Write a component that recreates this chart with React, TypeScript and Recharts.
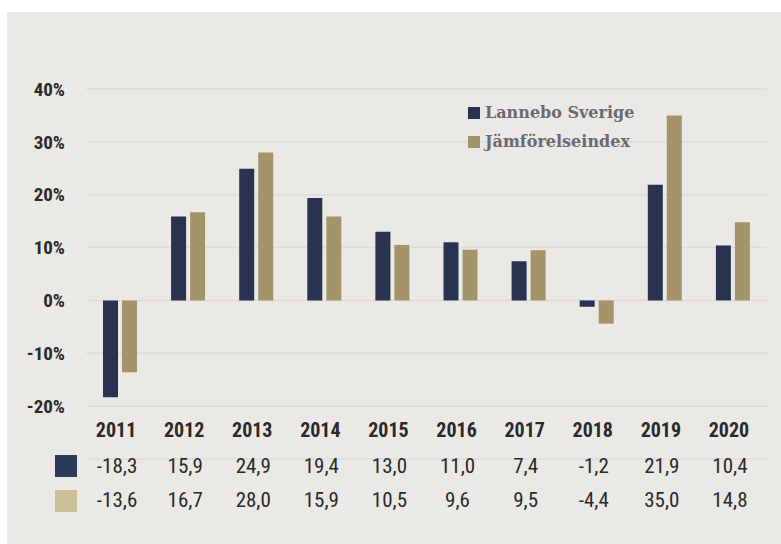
import { BarChart, Bar, XAxis, YAxis, CartesianGrid, Legend } from "recharts";

const years = ["2011", "2012", "2013", "2014", "2015", "2016", "2017", "2018", "2019", "2020"];
const lannebo = [-18.3, 15.9, 24.9, 19.4, 13.0, 11.0, 7.4, -1.2, 21.9, 10.4];
const jamforelse = [-13.6, 16.7, 28.0, 15.9, 10.5, 9.6, 9.5, -4.4, 35.0, 14.8];
const seriesNames = ["Lannebo Sverige", "Jämförelseindex"];
const yTicks = [-30, -20, -10, 0, 10, 20, 30, 40];

const data = years.map((year, i) => ({ year, lannebo: lannebo[i], index: jamforelse[i] }));

const NAVY = "#29324f";
const GOLD = "#a39569";
const NARROW = "'Liberation Sans Narrow', 'Roboto Condensed', Roboto, sans-serif";
const fmt = (v: number) => v.toFixed(1).replace(".", ",");

const YearTick = (props: any) => {
  const { x, y, payload, index } = props;
  return (
    <g>
      <text x={x - 4} y={y - 22} textAnchor="middle" fontFamily={NARROW} fontWeight={700} fontSize={20} fill="#2a2a2a">
        {payload.value}
      </text>
      <text x={x - 3} y={y + 14} textAnchor="middle" fontFamily={NARROW} fontSize={21} fill="#2a2a2a">
        {fmt(lannebo[index])}
      </text>
      <text x={x - 3} y={y + 48} textAnchor="middle" fontFamily={NARROW} fontSize={21} fill="#2a2a2a">
        {fmt(jamforelse[index])}
      </text>
    </g>
  );
};

const LegendBox = (props: any) => {
  const items = [...(props.payload || [])].sort(
    (a: any, b: any) => seriesNames.indexOf(a.value) - seriesNames.indexOf(b.value)
  );
  return (
    <div>
      {items.map((p: any) => (
        <div key={p.value} style={{ display: "flex", alignItems: "center", height: 29 }}>
          <span style={{ width: 12, height: 12, background: p.color, marginRight: 5 }} />
          <span style={{ fontFamily: "DejaVu Serif", fontWeight: 700, fontSize: 16, color: "#6b6a72" }}>{p.value}</span>
        </div>
      ))}
    </div>
  );
};

export default function App() {
  return (
    <div style={{ position: "absolute", left: 0, top: 0, width: 781, height: 544, background: "#fff" }}>
      <div style={{ position: "absolute", left: 7, top: 12, width: 774, height: 532, background: "#ebe9e5" }}>
        <BarChart width={774} height={532} data={data} margin={{ top: 77, right: 14, left: 0, bottom: 55 }} barGap={4}>
          <CartesianGrid vertical={false} stroke="#dedbdc" strokeWidth={1.5} />
          <XAxis
            dataKey="year"
            height={30}
            axisLine={false}
            tickLine={false}
            tickSize={0}
            tickMargin={0}
            interval={0}
            tick={<YearTick />}
          />
          <YAxis
            width={79}
            domain={[-30, 40]}
            ticks={yTicks}
            axisLine={false}
            tickLine={false}
            tickSize={0}
            tickMargin={21}
            tickFormatter={(v: number) => (v === -30 ? "" : `${v}%`)}
            tick={{ fontFamily: NARROW, fontWeight: 700, fontSize: 19, fill: "#2a2a2a" }}
          />
          <Legend
            layout="vertical"
            verticalAlign="middle"
            align="center"
            wrapperStyle={{ left: 461, top: 86, width: 220 }}
            content={<LegendBox />}
          />
          <Bar dataKey="lannebo" name={seriesNames[0]} fill={NAVY} barSize={15} isAnimationActive={false} />
          <Bar dataKey="index" name={seriesNames[1]} fill={GOLD} barSize={15} isAnimationActive={false} />
        </BarChart>
        <div style={{ position: "absolute", left: 48, top: 443, width: 22, height: 22, background: "#2f3a58" }} />
        <div style={{ position: "absolute", left: 48, top: 478, width: 22, height: 22, background: "#cbbf96" }} />
      </div>
    </div>
  );
}
